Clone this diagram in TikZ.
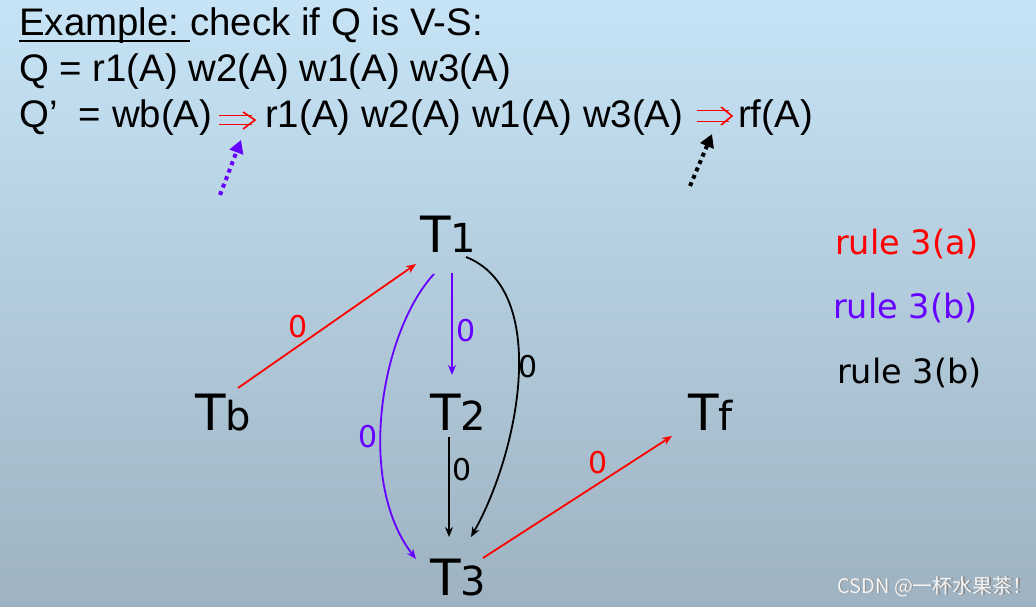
\documentclass[tikz,border=0pt]{standalone}
\usepackage{fontspec}
\setmainfont{Liberation Sans}
\newfontfamily\gfont{DejaVu Sans}
\newfontfamily\cjk{Noto Sans CJK SC}
\usetikzlibrary{arrows.meta,calc}
\definecolor{pur}{RGB}{102,0,255}
\definecolor{bgtop}{RGB}{198,228,246}
\definecolor{bgbot}{RGB}{158,178,193}
\newcommand{\tlab}[2]{{\gfont\fontsize{50}{55}\selectfont #1\fontsize{40}{45}\selectfont #2}}
\begin{document}
\begin{tikzpicture}[x=1pt,y=-1pt,
  txt/.style={inner sep=0pt, anchor=base west, font=\fontsize{38.4}{42}\selectfont},
  tn/.style={inner sep=0pt, anchor=base west},
  lab/.style={inner sep=0pt, font=\gfont\fontsize{30}{32}\selectfont},
  rule/.style={inner sep=0pt, anchor=base west, font=\gfont\fontsize{33.5}{36}\selectfont},
  conn/.style={line width=1.8pt, -{Stealth[length=10pt,width=8pt]}},
  impl/.style={red, line width=1.6pt},
  dotarrow/.style={line width=4pt, dash pattern=on 4pt off 4pt, -{Triangle[length=13pt,width=14pt]}}]
\shade[top color=bgtop, bottom color=bgbot] (0,0) rectangle (1036,607);
\useasboundingbox (0,0) rectangle (1036,607);
% header text
\node[txt] (ex) at (19,36) {Example:\ \mbox{}};
\node[txt] (ex2) at (ex.base east) {check if Q is V-S:};
\draw[line width=1.8pt] ($(ex.base west)+(0,5)$) -- ($(ex.base east)+(0,5)$);
\node[txt] (q) at (19,82) {Q = r1(A) w2(A) w1(A) w3(A)};
\node[txt] (qa) at (19,128) {Q’\ \ = wb(A)};
\node[txt] (qb) at (265,128) {r1(A) w2(A) w1(A) w3(A)};
\node[txt] (qc) at (738,128) {rf(A)};
% implication arrows
\draw[impl] (219,115.5) -- (252,115.5) (219,124.5) -- (252,124.5);
\draw[impl] (243,112) -- (255,120) -- (243,129);
\draw[impl] (697,110.5) -- (729,110.5) (697,121.5) -- (729,121.5);
\draw[impl] (721,107) -- (732,116) -- (721,125);
% dotted arrows
\coordinate (pd0) at (220,195);
\coordinate (pd1) at (241,140);
\coordinate (bd0) at (690,186);
\coordinate (bd1) at (712,134);
\draw[dotarrow, pur] (pd0) -- (pd1);
\draw[dotarrow, black] (bd0) -- (bd1);
% graph nodes
\node[tn] (t1) at (420,252) {\tlab{T}{1}};
\node[tn] (tb) at (195,430) {\tlab{T}{b}};
\node[tn] (t2) at (430,430) {\tlab{T}{2}};
\node[tn] (t3) at (430,595) {\tlab{T}{3}};
\node[tn] (tf) at (688,430) {\tlab{T}{f}};
% edges
\draw[conn, red] ($(tb.base west)+(43,-42)$) -- ($(t1.base west)+(-4,12)$);
\node[lab, red] (l1) at (298,327) {0};
\draw[conn, pur] ($(t1.base west)+(32,21)$) -- ($(t2.base west)+(22,-55)$);
\node[lab, pur] (l2) at (466,331) {0};
\draw[conn, pur] ($(t1.base west)+(14,22)$) .. controls (382,330) and (355,480) .. ($(t3.base west)+(-14,-36)$);
\node[lab, pur] (l3) at (368,437) {0};
\draw[conn, black] ($(t1.base west)+(46,5)$) .. controls (550,290) and (520,450) .. ($(t3.base west)+(41,-58)$);
\node[lab, black] (l4) at (528,367) {0};
\draw[conn, black] ($(t2.base west)+(19,7)$) -- ($(t3.base west)+(19,-58)$);
\node[lab, black] (l5) at (462,470) {0};
\draw[conn, red] ($(t3.base west)+(53,-37)$) -- ($(tf.base west)+(-16,6)$);
\node[lab, red] (l6) at (598,463) {0};
% rules
\node[rule, red] (r1) at (835,254) {rule 3(a)};
\node[rule, pur] (r2) at (833,318) {rule 3(b)};
\node[rule, black] (r3) at (837,383) {rule 3(b)};
% watermark
\node[inner sep=0pt, anchor=base west, text=black!45, font=\cjk\fontsize{20}{22}\selectfont] at (838.2,593.6) {CSDN @一杯水果茶！};
\node[inner sep=0pt, anchor=base west, text=white!92!gray, font=\cjk\fontsize{20}{22}\selectfont] (wm) at (837,593) {CSDN @一杯水果茶！};
\end{tikzpicture}
\end{document}
